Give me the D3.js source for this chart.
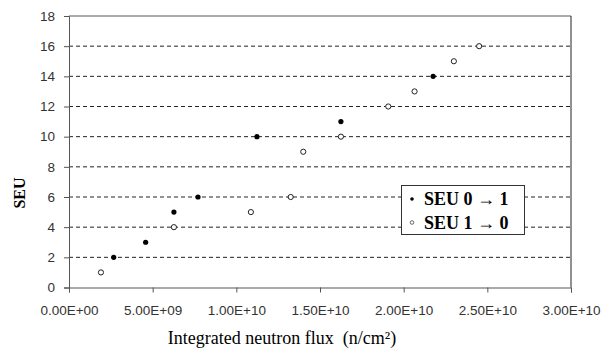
<!DOCTYPE html>
<html><head><meta charset="utf-8">
<script src="https://cdn.jsdelivr.net/npm/d3@7"></script>
<style>body{margin:0;background:#fff}svg{display:block}
.serif{font-family:"Liberation Serif","DejaVu Serif",serif}
.sans{font-family:"Liberation Sans","DejaVu Sans",sans-serif}
</style>
</head><body>
<svg id="c" width="607" height="349"></svg>
<script>
const seriesNames = ["SEU 0 \u2192 1", "SEU 1 \u2192 0"];
const flux01 = [2.67e9, 4.58e9, 6.27e9, 7.71e9, 1.123e10, 1.625e10, 2.176e10];
const seu01  = [2, 3, 5, 6, 10, 11, 14];
const flux10 = [1.91e9, 6.27e9, 1.087e10, 1.325e10, 1.40e10, 1.625e10, 1.908e10, 2.065e10, 2.30e10, 2.451e10];
const seu10  = [1, 4, 5, 6, 9, 10, 12, 13, 15, 16];
const xTicks = [0, 5e9, 1e10, 1.5e10, 2e10, 2.5e10, 3e10];
const xTickLabels = ["0.00E+00","5.00E+09","1.00E+10","1.50E+10","2.00E+10","2.50E+10","3.00E+10"];
const yTicks = [0,2,4,6,8,10,12,14,16,18];

const svg = d3.select("#c");
const L=69, R=571, T=16, B=287.5;
const x = d3.scaleLinear().domain([0,3e10]).range([L,R]);
const y = d3.scaleLinear().domain([0,18]).range([B,T]);
const axisCol = "#555";

svg.append("g").selectAll("line").data(yTicks.filter(v=>v>0&&v<18)).join("line")
  .attr("x1",L).attr("x2",R).attr("y1",d=>y(d)).attr("y2",d=>y(d))
  .attr("stroke","#222").attr("stroke-width",1).attr("stroke-dasharray","4,3");

svg.append("line").attr("x1",L).attr("x2",R).attr("y1",T).attr("y2",T).attr("stroke",axisCol);
svg.append("line").attr("x1",R).attr("x2",R).attr("y1",T).attr("y2",B).attr("stroke","#222");

const ya = svg.append("g").attr("transform",`translate(${L},0)`)
  .call(d3.axisLeft(y).tickValues(yTicks).tickSize(5).tickPadding(9).tickFormat(d3.format("d")));
const xa = svg.append("g").attr("transform",`translate(0,${B})`)
  .call(d3.axisBottom(x).tickValues(xTicks).tickSize(5).tickPadding(13).tickFormat((d,i)=>xTickLabels[i]));
[ya,xa].forEach(g=>{
  g.attr("font-family",null).attr("font-size",null);
  g.select(".domain").attr("stroke",axisCol);
  g.selectAll(".tick line").attr("stroke",axisCol);
  g.selectAll("text").attr("class","sans").style("font-size","13.5px").attr("fill","#333");
});

svg.append("g").selectAll("circle").data(flux10.map((f,i)=>[f,seu10[i]])).join("circle")
  .attr("cx",d=>x(d[0])).attr("cy",d=>y(d[1])).attr("r",2.6)
  .attr("fill","#fff").attr("stroke","#222").attr("stroke-width",1);
svg.append("g").selectAll("circle").data(flux01.map((f,i)=>[f,seu01[i]])).join("circle")
  .attr("cx",d=>x(d[0])).attr("cy",d=>y(d[1])).attr("r",2.6)
  .attr("fill","#000");

svg.append("text").attr("class","serif").attr("transform","translate(25,193) rotate(-90)")
  .attr("text-anchor","middle").style("font-weight","bold").style("font-size","16px").text("SEU");
svg.append("text").attr("class","serif").attr("x",282).attr("y",344).attr("text-anchor","middle")
  .style("font-size","18px").style("white-space","pre")
  .text("Integrated neutron flux  (n/cm\u00B2)");

const lg = svg.append("g");
lg.append("rect").attr("x",401.5).attr("y",185.5).attr("width",123).attr("height",49)
  .attr("fill","#fff").attr("stroke","#333");
seriesNames.forEach((n,i)=>{
  const cy = 199 + i*23.5;
  lg.append("circle").attr("cx",412).attr("cy",cy).attr("r",1.8)
    .attr("fill",i===0?"#000":"#fff").attr("stroke",i===0?"none":"#444").attr("stroke-width",0.8);
  lg.append("text").attr("class","serif").attr("x",424).attr("y",cy+6)
    .style("font-weight","bold").style("font-size","18px").text(n);
});
</script>
</body></html>
